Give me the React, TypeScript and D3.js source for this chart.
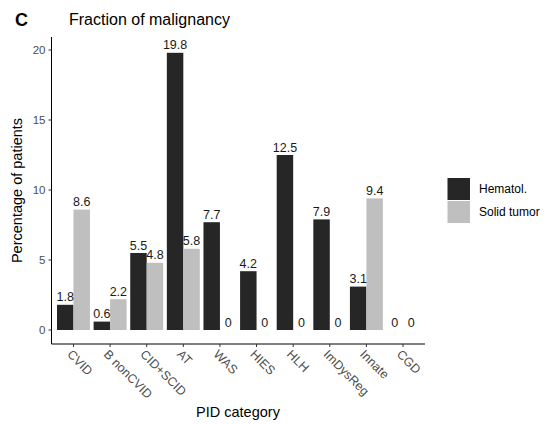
import React from "react";
import * as d3 from "d3";

const categories = ["CVID", "B nonCVID", "CID+SCID", "AT", "WAS", "HIES", "HLH", "ImDysReg", "Innate", "CGD"];
const hematol = [1.8, 0.6, 5.5, 19.8, 7.7, 4.2, 12.5, 7.9, 3.1, 0];
const solidTumor = [8.6, 2.2, 4.8, 5.8, 0, 0, 0, 0, 9.4, 0];
const yTicks = [0, 5, 10, 15, 20];
const seriesNames = ["Hematol.", "Solid tumor"];
const seriesColors = ["#262626", "#bfbfbf"];

const W = 547;
const H = 424;
const FONT = "'Liberation Sans', Arial, Helvetica, sans-serif";

export default function App() {
  const panelLeft = 51.5;
  const panelRight = 425;
  const panelTop = 37;
  const panelBottom = 344;

  const step = (panelRight - panelLeft) / (categories.length + 0.2);
  const x = d3
    .scalePoint<string>()
    .domain(categories)
    .range([panelLeft + 0.6 * step, panelRight - 0.6 * step]);
  const y = d3.scaleLinear().domain([0, 20]).range([330, 50]);
  const barW = step * 0.45;

  const series = [hematol, solidTumor];

  return (
    <svg width={W} height={H} style={{ position: "absolute", left: 0, top: 0, background: "#fff" }} fontFamily={FONT}>
      <text x={15} y={26} fontSize={18} fontWeight="bold" fill="#000">C</text>
      <text x={69} y={25} fontSize={16} fill="#000">Fraction of malignancy</text>

      {/* bars */}
      {series.map((vals, s) =>
        vals.map((v, i) => {
          const cx = x(categories[i])!;
          const bx = s === 0 ? cx - barW : cx;
          return (
            <rect
              key={`b${s}-${i}`}
              x={bx}
              y={y(v)}
              width={barW}
              height={y(0) - y(v)}
              fill={seriesColors[s]}
            />
          );
        })
      )}

      {/* value labels */}
      {series.map((vals, s) =>
        vals.map((v, i) => {
          const cx = x(categories[i])! + (s === 0 ? -barW / 2 : barW / 2);
          return (
            <text
              key={`l${s}-${i}`}
              x={cx}
              y={y(v) - 3.5}
              fontSize={12.5}
              textAnchor="middle"
              fill="#1a1a1a"
            >
              {String(v)}
            </text>
          );
        })
      )}

      {/* axes */}
      <line x1={panelLeft} x2={panelLeft} y1={panelTop} y2={panelBottom} stroke="#000" strokeWidth={1} />
      <line x1={panelLeft} x2={panelRight} y1={panelBottom} y2={panelBottom} stroke="#000" strokeWidth={1} />

      {yTicks.map((t) => (
        <g key={`yt${t}`}>
          <line x1={panelLeft - 3} x2={panelLeft} y1={y(t)} y2={y(t)} stroke="#333" />
          <text x={panelLeft - 6} y={y(t)} dy="0.35em" fontSize={11.5} textAnchor="end" fill="#4d4d4d">
            {t}
          </text>
        </g>
      ))}

      {categories.map((c) => {
        const cx = x(c)!;
        return (
          <g key={`xt${c}`}>
            <line x1={cx} x2={cx} y1={panelBottom} y2={panelBottom + 3} stroke="#333" />
            <text
              transform={`translate(${cx - 4},${panelBottom + 8}) rotate(45)`}
              fontSize={12.5}
              fill="#4d4d4d"
              dy="0.35em"
            >
              {c}
            </text>
          </g>
        );
      })}

      <text x={238} y={417} fontSize={14.5} textAnchor="middle" fill="#000">PID category</text>
      <text
        transform={`translate(22,${(panelTop + panelBottom) / 2}) rotate(-90)`}
        fontSize={14.5}
        textAnchor="middle"
        fill="#000"
      >
        Percentage of patients
      </text>

      {/* legend */}
      {seriesNames.map((n, i) => (
        <g key={`lg${n}`}>
          <rect x={447.5} y={178 + i * 23} width={22.5} height={22} fill={seriesColors[i]} />
          <text x={479} y={189 + i * 23} dy="0.35em" fontSize={12} fill="#000">
            {n}
          </text>
        </g>
      ))}
    </svg>
  );
}
